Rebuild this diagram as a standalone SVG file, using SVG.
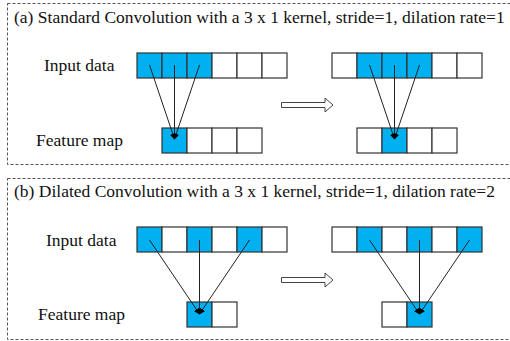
<svg xmlns="http://www.w3.org/2000/svg" width="510" height="341" viewBox="0 0 510 341">
<style>
.frame{fill:none;stroke:#555;stroke-width:1;stroke-dasharray:3,2}
.c{fill:#fff;stroke:#333;stroke-width:1.2}
.b{fill:#00B0F0;stroke:#333;stroke-width:1.2}
.ln{stroke:#222;stroke-width:1;fill:none;marker-end:url(#ah)}
.shift{fill:#fff;stroke:#444;stroke-width:1}
</style>
<defs>
<marker id="ah" viewBox="0 0 10 10" refX="9" refY="5" markerWidth="6" markerHeight="6" markerUnits="userSpaceOnUse" orient="auto">
<path d="M0,0 L10,5 L0,10 Z" fill="#000"/>
</marker>
</defs>
<rect class="frame" x="7.5" y="3.5" width="510" height="161"/>
<rect class="frame" x="7.5" y="178.5" width="510" height="161"/>
<g font-family="Liberation Serif, Times New Roman, serif" font-size="17.5" fill="#111">
<text x="14" y="23">(a) Standard Convolution with a 3 x 1 kernel, stride=1, dilation rate=1</text>
<text x="14" y="197">(b) Dilated Convolution with a 3 x 1 kernel, stride=1, dilation rate=2</text>
<g id="a-labels">
<text x="44" y="71">Input data</text>
<text x="36" y="146">Feature map</text>
</g>
<g id="b-labels">
<text x="46" y="246">Input data</text>
<text x="38" y="320">Feature map</text>
</g>
</g>
<g id="a-input-left">
<rect class="b" x="137" y="53" width="25" height="25"/><rect class="b" x="162" y="53" width="25" height="25"/><rect class="b" x="187" y="53" width="25" height="25"/><rect class="c" x="212" y="53" width="25" height="25"/><rect class="c" x="237" y="53" width="25" height="25"/><rect class="c" x="262" y="53" width="25" height="25"/>
</g>
<g id="a-feature-left">
<rect class="b" x="162" y="128" width="25" height="25"/><rect class="c" x="187" y="128" width="25" height="25"/><rect class="c" x="212" y="128" width="25" height="25"/><rect class="c" x="237" y="128" width="25" height="25"/>
</g>
<g id="a-input-right">
<rect class="c" x="332" y="53" width="25" height="25"/><rect class="b" x="357" y="53" width="25" height="25"/><rect class="b" x="382" y="53" width="25" height="25"/><rect class="b" x="407" y="53" width="25" height="25"/><rect class="c" x="432" y="53" width="25" height="25"/><rect class="c" x="457" y="53" width="25" height="25"/>
</g>
<g id="a-feature-right">
<rect class="c" x="357" y="128" width="25" height="25"/><rect class="b" x="382" y="128" width="25" height="25"/><rect class="c" x="407" y="128" width="25" height="25"/><rect class="c" x="432" y="128" width="25" height="25"/>
</g>
<g id="a-shift">
<path class="shift" d="M281.5,102.5 H325 V98 L333,105 L325,112 V107.5 H281.5 Z"/>
</g>

<g id="b-input-left">
<rect class="b" x="137" y="227" width="25" height="25"/><rect class="c" x="162" y="227" width="25" height="25"/><rect class="b" x="187" y="227" width="25" height="25"/><rect class="c" x="212" y="227" width="25" height="25"/><rect class="b" x="237" y="227" width="25" height="25"/><rect class="c" x="262" y="227" width="25" height="25"/>
</g>
<g id="b-feature-left">
<rect class="b" x="187" y="302" width="25" height="25"/><rect class="c" x="212" y="302" width="25" height="25"/>
</g>
<g id="b-input-right">
<rect class="c" x="332" y="227" width="25" height="25"/><rect class="b" x="357" y="227" width="25" height="25"/><rect class="c" x="382" y="227" width="25" height="25"/><rect class="b" x="407" y="227" width="25" height="25"/><rect class="c" x="432" y="227" width="25" height="25"/><rect class="b" x="457" y="227" width="25" height="25"/>
</g>
<g id="b-feature-right">
<rect class="c" x="382" y="302" width="25" height="25"/><rect class="b" x="407" y="302" width="25" height="25"/>
</g>
<g id="b-shift">
<path class="shift" d="M281.5,277.5 H325 V273 L333,280 L325,287 V282.5 H281.5 Z"/>
</g>

<g id="connectors">
<line class="ln" x1="149.5" y1="65" x2="174.5" y2="139"/>
<line class="ln" x1="174.5" y1="65" x2="174.5" y2="139"/>
<line class="ln" x1="199.5" y1="65" x2="174.5" y2="139"/>
<line class="ln" x1="369.5" y1="65" x2="394.5" y2="139"/>
<line class="ln" x1="394.5" y1="65" x2="394.5" y2="139"/>
<line class="ln" x1="419.5" y1="65" x2="394.5" y2="139"/>
<line class="ln" x1="149.5" y1="240" x2="199.5" y2="314"/>
<line class="ln" x1="199.5" y1="240" x2="199.5" y2="314"/>
<line class="ln" x1="249.5" y1="240" x2="199.5" y2="314"/>
<line class="ln" x1="369.5" y1="240" x2="419.5" y2="314"/>
<line class="ln" x1="419.5" y1="240" x2="419.5" y2="314"/>
<line class="ln" x1="469.5" y1="240" x2="419.5" y2="314"/>
</g>
</svg>
